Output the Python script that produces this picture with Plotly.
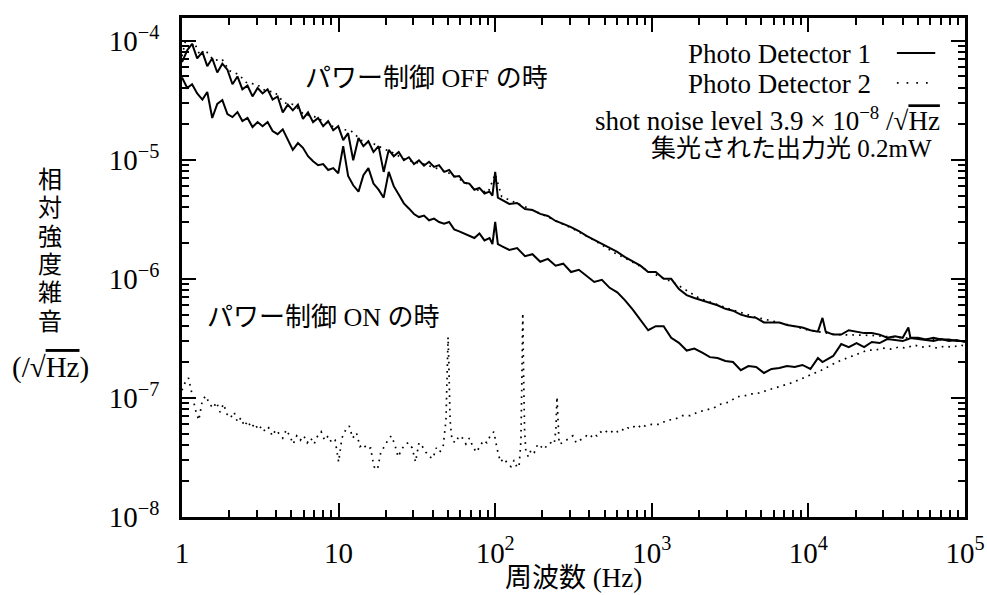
import plotly.graph_objects as go

# ---- measured spectra -------------------------------------------------------
# frequency grid (Hz) shared by the two solid spectra
freq_off = [
    1.00, 1.08, 1.16, 1.25, 1.35, 1.45, 1.56, 1.68, 1.81, 1.95,
    2.10, 2.26, 2.43, 2.62, 2.82, 3.04, 3.27, 3.52, 3.79, 4.08,
    4.40, 4.74, 5.10, 5.50, 5.92, 6.38, 6.87, 7.40, 7.97, 8.58,
    9.24, 9.95, 10.7, 11.5, 12.4, 13.4, 14.4, 15.5, 16.7, 18.0,
    19.4, 20.9, 22.5, 24.2, 26.1, 28.1, 30.3, 32.6, 35.1, 37.8,
    40.7, 43.8, 47.2, 50.8, 54.7, 58.9, 63.5, 68.4, 73.6, 79.3,
    85.4, 92.0, 96.0, 100, 104, 110,
    123, 138, 155, 173, 194, 217, 243, 272, 305, 342,
    383, 429, 480, 538, 602, 675, 756, 846, 948, 1060,
    1190, 1330, 1490, 1670, 1870, 2100, 2350, 2630, 2950, 3300,
    3700, 4140, 4640, 5200, 5820, 6520, 7300, 8180, 9160, 10300,
    11500, 12300, 12900, 14400, 16200, 18100, 20300, 22700, 25400, 28500,
    31900, 35700, 40000, 43500, 44800, 50200, 56200, 62900, 70500, 79000,
    88400, 100000,
]

# Photo Detector 1, power control OFF (upper solid trace)
pd1_upper = [
    6.6e-5, 8.3e-5, 9.4e-5, 7.1e-5, 8.0e-5, 6.1e-5, 7.1e-5, 5.4e-5, 6.4e-5, 5.7e-5,
    4.3e-5, 5.0e-5, 3.9e-5, 4.2e-5, 3.4e-5, 4.0e-5, 3.6e-5, 3.9e-5, 3.2e-5, 3.4e-5,
    2.5e-5, 2.9e-5, 2.6e-5, 2.9e-5, 2.2e-5, 2.5e-5, 2.07e-5, 2.24e-5, 1.91e-5, 2.11e-5,
    1.77e-5, 1.91e-5, 1.46e-5, 1.67e-5, 9.9e-6, 1.52e-5, 1.30e-5, 1.43e-5, 1.16e-5, 1.30e-5,
    7.9e-6, 1.21e-5, 1.07e-5, 1.16e-5, 9.9e-6, 1.05e-5, 9.2e-6, 9.9e-6, 8.9e-6, 9.6e-6,
    8.7e-6, 9.0e-6, 7.9e-6, 8.2e-6, 7.2e-6, 7.3e-6, 6.4e-6, 6.3e-6, 5.6e-6, 5.8e-6,
    5.2e-6, 5.4e-6, 5.0e-6, 7.9e-6, 4.8e-6, 4.6e-6,
    4.25e-6, 4.33e-6, 3.86e-6, 3.78e-6, 3.51e-6, 3.37e-6, 3.06e-6, 2.89e-6, 2.72e-6, 2.52e-6,
    2.29e-6, 2.12e-6, 1.96e-6, 1.81e-6, 1.68e-6, 1.52e-6, 1.39e-6, 1.29e-6, 1.14e-6, 1.14e-6,
    1.0e-6, 1.0e-6, 8.2e-7, 7.3e-7, 6.9e-7, 6.6e-7, 6.3e-7, 6.0e-7, 5.6e-7, 5.4e-7,
    5.0e-7, 4.8e-7, 4.7e-7, 4.3e-7, 4.3e-7, 4.3e-7, 4.1e-7, 4.0e-7, 3.9e-7, 3.7e-7,
    3.6e-7, 4.7e-7, 3.6e-7, 3.4e-7, 3.4e-7, 3.7e-7, 3.6e-7, 3.5e-7, 3.5e-7, 3.4e-7,
    3.2e-7, 3.3e-7, 3.2e-7, 3.9e-7, 3.2e-7, 3.2e-7, 3.1e-7, 3.2e-7, 3.1e-7, 3.1e-7,
    3.0e-7, 3.0e-7,
]

# Photo Detector 1, second solid trace (lower)
pd1_lower = [
    4.9e-5, 4.0e-5, 4.3e-5, 3.6e-5, 3.2e-5, 3.7e-5, 2.24e-5, 2.94e-5, 3.17e-5, 2.42e-5,
    2.28e-5, 2.51e-5, 2.11e-5, 2.24e-5, 1.88e-5, 2.07e-5, 1.91e-5, 2.07e-5, 1.74e-5, 1.64e-5,
    1.80e-5, 1.46e-5, 1.21e-5, 1.38e-5, 1.26e-5, 1.07e-5, 9.7e-6, 9.0e-6, 9.2e-6, 8.2e-6,
    8.5e-6, 7.7e-6, 1.30e-5, 7.3e-6, 6.1e-6, 5.4e-6, 7.4e-6, 8.5e-6, 6.3e-6, 5.6e-6,
    4.8e-6, 7.9e-6, 6.0e-6, 5.1e-6, 4.3e-6, 3.9e-6, 3.5e-6, 3.3e-6, 3.4e-6, 3.1e-6,
    3.2e-6, 3.0e-6, 2.9e-6, 3.0e-6, 2.6e-6, 2.5e-6, 2.4e-6, 2.3e-6, 2.2e-6, 2.4e-6,
    2.1e-6, 2.2e-6, 1.96e-6, 3.0e-6, 1.96e-6, 1.88e-6,
    1.75e-6, 1.81e-6, 1.55e-6, 1.61e-6, 1.39e-6, 1.47e-6, 1.29e-6, 1.34e-6, 1.14e-6, 1.19e-6,
    1.06e-6, 9.4e-7, 9.8e-7, 8.4e-7, 7.7e-7, 6.6e-7, 5.5e-7, 4.5e-7, 3.7e-7, 4.0e-7,
    4.0e-7, 3.2e-7, 2.9e-7, 2.5e-7, 2.6e-7, 2.4e-7, 2.2e-7, 2.16e-7, 2.04e-7, 2.0e-7,
    1.71e-7, 1.85e-7, 1.82e-7, 1.62e-7, 1.75e-7, 1.78e-7, 1.85e-7, 1.82e-7, 1.89e-7, 1.75e-7,
    2.16e-7, 2.0e-7, 2.08e-7, 2.25e-7, 2.83e-7, 2.67e-7, 2.89e-7, 2.67e-7, 2.95e-7, 2.89e-7,
    3.12e-7, 3.06e-7, 3.0e-7, 3.12e-7, 3.18e-7, 3.12e-7, 3.06e-7, 3.0e-7, 3.12e-7, 3.0e-7,
    3.06e-7, 2.95e-7,
]

# Photo Detector 2, power control OFF (dotted, runs along the upper trace)
freq_pd2_off = [
    1.0, 1.05, 1.12, 1.2, 1.3, 1.4, 1.6, 1.8, 2.0, 2.3,
    2.6, 3.0, 3.4, 3.9, 4.5, 5.2, 6.0, 7.0, 8.0, 9.2,
    10.5, 12, 14, 16, 19, 22, 26, 30, 35, 41,
    48, 56, 65, 76, 90, 100, 110, 140, 180, 240,
    320, 430, 580, 780, 1000, 1400, 2000, 3000, 4500, 7000,
    10000, 15000, 25000, 40000, 70000, 100000,
]
pd2_off = [
    7.4e-5, 9.8e-5, 8.6e-5, 9.6e-5, 7.6e-5, 8.4e-5, 6.8e-5, 7.0e-5, 5.6e-5, 5.2e-5,
    4.4e-5, 4.3e-5, 3.8e-5, 3.7e-5, 3.0e-5, 2.9e-5, 2.4e-5, 2.3e-5, 2.1e-5, 1.9e-5,
    1.8e-5, 1.75e-5, 1.45e-5, 1.4e-5, 1.25e-5, 1.15e-5, 1.02e-5, 9.6e-6, 9.2e-6, 8.6e-6,
    8.0e-6, 7.2e-6, 6.4e-6, 5.6e-6, 5.3e-6, 7.6e-6, 4.9e-6, 4.3e-6, 3.7e-6, 3.1e-6,
    2.6e-6, 2.1e-6, 1.65e-6, 1.35e-6, 1.12e-6, 9.2e-7, 6.9e-7, 5.7e-7, 4.8e-7, 4.2e-7,
    3.7e-7, 3.4e-7, 3.35e-7, 3.2e-7, 3.1e-7, 3.0e-7,
]

# Photo Detector 2, power control ON (dotted)
freq_on = [
    1.00, 1.05, 1.10, 1.16, 1.22, 1.28, 1.35, 1.42, 1.50, 1.58,
    1.66, 1.75, 1.84, 1.94, 2.04, 2.15, 2.26, 2.38, 2.50, 2.63,
    2.77, 2.92, 3.07, 3.23, 3.40, 3.58, 3.77, 3.97, 4.18, 4.40,
    4.63, 4.87, 5.13, 5.40, 5.69, 5.99, 6.30, 6.63, 6.98, 7.35,
    7.74, 8.15, 8.58, 9.03, 9.51, 10.0, 10.5, 11.1, 11.7, 12.3,
    13.0, 13.7, 14.4, 15.2, 16.0, 16.8, 17.7, 18.6, 19.6, 20.6,
    21.7, 22.8, 24.0, 25.3, 26.6, 28.0, 29.5, 31.0, 32.6, 34.3,
    36.1, 38.0, 40.0, 42.0, 44.2, 46.5, 48.5, 49.5, 50.0, 50.5,
    51.5, 53.0, 55.8, 58.7, 61.8, 65.0, 68.4, 72.0, 75.8, 79.8,
    84.0, 88.4, 93.0, 98.0, 103, 108, 114, 120, 126, 132,
    138, 142, 146, 148, 150, 152, 154, 157, 163, 170,
    178, 187, 196, 206, 216, 227, 238, 244, 248, 252,
    256, 269, 283, 298, 313, 329, 346, 364, 383, 403,
    424, 446, 469, 493, 519, 546, 574, 604, 636, 669,
    703, 740, 778, 818, 861, 905, 952, 1000,
    1120, 1250, 1400, 1570, 1760, 1970, 2210, 2470, 2770, 3100,
    3480, 3890, 4360, 4890, 5470, 6130, 6870, 7700, 8620, 9650,
    10800, 12100, 13600, 15200, 17000, 19100, 21400, 23900, 26800, 30000,
    33600, 37700, 42200, 47300, 52900, 59300, 66400, 74400, 83300, 93300,
    100000,
]
pd2_on = [
    1.16e-7, 1.36e-7, 1.47e-7, 1.06e-7, 7.9e-8, 6.5e-8, 9.6e-8, 1.04e-7, 8.9e-8, 8.2e-8,
    9.2e-8, 7.6e-8, 8.9e-8, 7.3e-8, 6.8e-8, 7.6e-8, 6.25e-8, 6.8e-8, 5.8e-8, 6.4e-8,
    5.6e-8, 6.1e-8, 5.4e-8, 5.8e-8, 5.2e-8, 5.6e-8, 4.8e-8, 5.4e-8, 5.0e-8, 4.6e-8,
    5.4e-8, 4.8e-8, 4.1e-8, 4.8e-8, 4.4e-8, 4.8e-8, 4.2e-8, 4.6e-8, 4.1e-8, 4.8e-8,
    5.2e-8, 4.4e-8, 4.8e-8, 4.2e-8, 4.4e-8, 2.9e-8, 4.6e-8, 5.4e-8, 5.8e-8, 4.6e-8,
    5.1e-8, 3.9e-8, 4.1e-8, 3.7e-8, 3.8e-8, 2.65e-8, 2.5e-8, 3.5e-8, 3.9e-8, 4.4e-8,
    4.8e-8, 4.1e-8, 3.2e-8, 3.7e-8, 4.1e-8, 4.2e-8, 3.8e-8, 2.9e-8, 4.2e-8, 3.9e-8,
    3.5e-8, 3.2e-8, 3.1e-8, 3.8e-8, 3.5e-8, 3.9e-8, 6.5e-8, 2.08e-7, 3.24e-7, 2.08e-7,
    6.5e-8, 4.4e-8, 4.2e-8, 4.8e-8, 4.6e-8, 4.1e-8, 4.6e-8, 3.9e-8, 3.5e-8, 3.9e-8,
    4.4e-8, 4.2e-8, 4.8e-8, 5.2e-8, 3.7e-8, 2.9e-8, 3.1e-8, 2.8e-8, 2.65e-8, 3.0e-8,
    2.6e-8, 2.65e-8, 4.4e-8, 1.41e-7, 5.17e-7, 1.41e-7, 5.4e-8, 3.5e-8, 3.2e-8, 3.7e-8,
    3.5e-8, 4.1e-8, 3.9e-8, 3.7e-8, 4.1e-8, 4.2e-8, 4.1e-8, 5.4e-8, 1.02e-7, 5.4e-8,
    4.1e-8, 4.2e-8, 4.4e-8, 4.6e-8, 4.8e-8, 4.2e-8, 4.4e-8, 4.6e-8, 4.8e-8, 4.6e-8,
    5.0e-8, 4.8e-8, 5.2e-8, 5.0e-8, 5.3e-8, 5.1e-8, 5.4e-8, 5.2e-8, 5.5e-8, 5.3e-8,
    5.6e-8, 5.5e-8, 5.8e-8, 5.6e-8, 6.0e-8, 5.8e-8, 5.9e-8, 6.0e-8,
    6.0e-8, 6.5e-8, 6.6e-8, 7.1e-8, 7.1e-8, 7.6e-8, 7.9e-8, 8.2e-8, 8.9e-8, 9.2e-8,
    1.02e-7, 1.04e-7, 1.08e-7, 1.10e-7, 1.16e-7, 1.21e-7, 1.28e-7, 1.33e-7, 1.41e-7, 1.50e-7,
    1.62e-7, 1.71e-7, 1.85e-7, 2.0e-7, 2.12e-7, 2.25e-7, 2.38e-7, 2.52e-7, 2.52e-7, 2.62e-7,
    2.57e-7, 2.67e-7, 2.62e-7, 2.78e-7, 2.67e-7, 2.72e-7, 2.62e-7, 2.72e-7, 2.67e-7, 2.78e-7,
    2.72e-7,
]

# ---- axes ------------------------------------------------------------------
x_tickvals = [1, 10, 100, 1000, 10000, 100000]
x_ticktext = ["1", "10", "10<sup>2</sup>", "10<sup>3</sup>", "10<sup>4</sup>", "10<sup>5</sup>"]
y_tickvals = [1e-8, 1e-7, 1e-6, 1e-5, 1e-4]
y_ticktext = ["10<sup>−8</sup>", "10<sup>−7</sup>", "10<sup>−6</sup>",
              "10<sup>−5</sup>", "10<sup>−4</sup>"]

x_minor = [m * 10 ** e for e in range(0, 5) for m in range(2, 10)]
y_minor = [m * 10.0 ** e for e in range(-8, -3) for m in range(2, 10)]

SERIF = "Liberation Serif, Noto Sans CJK JP, serif"
SQRT_HZ = "√<span style='text-decoration:overline'>Hz</span>"

fig = go.Figure()

solid = dict(color="black", width=2)
dotted = dict(color="black", width=1.7, dash="1.7px,5px")

fig.add_trace(go.Scatter(x=freq_on, y=pd2_on, mode="lines", line=dotted,
                         name="Photo Detector 2 (ON)"))
fig.add_trace(go.Scatter(x=freq_pd2_off, y=pd2_off, mode="lines", line=dotted,
                         name="Photo Detector 2 (OFF)"))
fig.add_trace(go.Scatter(x=freq_off, y=pd1_lower, mode="lines", line=solid,
                         name="Photo Detector 1 (b)"))
fig.add_trace(go.Scatter(x=freq_off, y=pd1_upper, mode="lines", line=solid,
                         name="Photo Detector 1"))

axis_style = dict(
    showline=True, linecolor="black", linewidth=2.5, mirror="allticks",
    ticks="inside", ticklen=14, tickwidth=2, tickcolor="black",
    showgrid=False, zeroline=False, automargin=False,
)
TICK_FONT = dict(family=SERIF, size=29, color="black")

fig.update_xaxes(
    type="log", range=[0, 5], tickmode="array",
    tickvals=x_tickvals, ticktext=x_ticktext, ticklabelstandoff=8,
    tickfont=TICK_FONT,
    minor=dict(tickmode="array", tickvals=x_minor, ticks="inside",
               ticklen=7, tickwidth=1.5, tickcolor="black", showgrid=False),
    **axis_style,
)
fig.update_yaxes(
    type="log", range=[-8, -3.81], tickmode="array",
    tickvals=y_tickvals, ticktext=y_ticktext, ticklabelstandoff=14,
    tickfont=TICK_FONT,
    minor=dict(tickmode="array", tickvals=y_minor, ticks="inside",
               ticklen=7, tickwidth=1.5, tickcolor="black", showgrid=False),
    **axis_style,
)

# ---- text ------------------------------------------------------------------
def paper_note(text, x, y, size=26, xanchor="center"):
    fig.add_annotation(text=text, x=x, y=y, xref="paper", yref="paper",
                       xanchor=xanchor, yanchor="middle", showarrow=False,
                       font=dict(family=SERIF, size=size, color="black"))

paper_note("パワー制御 OFF の時", 0.155, 0.878, xanchor="left")
paper_note("パワー制御 ON の時", 0.030, 0.40, xanchor="left")

# key: labels right-aligned with line samples to their right
paper_note("Photo Detector 1", 0.882, 0.928, size=27, xanchor="right")
paper_note("Photo Detector 2", 0.882, 0.868, size=27, xanchor="right")
paper_note("shot noise level 3.9 × 10<sup>−8</sup> /" + SQRT_HZ,
           0.970, 0.798, size=27, xanchor="right")
paper_note("集光された出力光 0.2mW", 0.961, 0.738, size=25, xanchor="right")

fig.add_shape(type="line", xref="paper", yref="paper",
              x0=0.913, x1=0.962, y0=0.930, y1=0.930,
              line=dict(color="black", width=2))
fig.add_shape(type="line", xref="paper", yref="paper",
              x0=0.913, x1=0.962, y0=0.870, y1=0.870,
              line=dict(color="black", width=1.7, dash="1.7px,8px"))

# axis titles
paper_note("周波数 (Hz)", 0.50, -0.122, size=27)
for i, ch in enumerate("相対強度雑音"):
    paper_note(ch, -0.168, 0.676 - i * 0.057, size=24)
paper_note("(/" + SQRT_HZ + ")", -0.168, 0.30, size=29)

fig.update_layout(
    width=987, height=595,
    margin=dict(l=182, r=22, t=18, b=78, autoexpand=False),
    plot_bgcolor="white", paper_bgcolor="white",
    showlegend=False,
    font=dict(family=SERIF, size=22, color="black"),
)

fig.write_html("out.html")
